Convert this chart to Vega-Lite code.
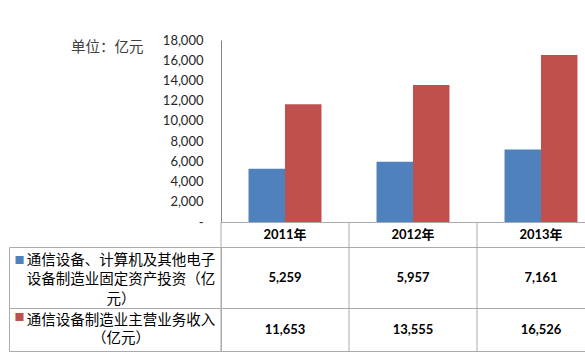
{
  "$schema": "https://vega.github.io/schema/vega-lite/v6.json",
  "padding": {"left": 8, "top": 34, "right": 0, "bottom": 0},
  "background": "white",
  "config": {"view": {"stroke": null}, "font": "Lato"},
  "datasets": {
    "d": [
      {"year": "2011年", "series": "通信设备、计算机及其他电子设备制造业固定资产投资（亿元）", "value": 5259},
      {"year": "2012年", "series": "通信设备、计算机及其他电子设备制造业固定资产投资（亿元）", "value": 5957},
      {"year": "2013年", "series": "通信设备、计算机及其他电子设备制造业固定资产投资（亿元）", "value": 7161},
      {"year": "2011年", "series": "通信设备制造业主营业务收入（亿元）", "value": 11653},
      {"year": "2012年", "series": "通信设备制造业主营业务收入（亿元）", "value": 13555},
      {"year": "2013年", "series": "通信设备制造业主营业务收入（亿元）", "value": 16526}
    ],
    "legend": [
      {"series": "通信设备、计算机及其他电子设备制造业固定资产投资（亿元）"},
      {"series": "通信设备制造业主营业务收入（亿元）"}
    ]
  },
  "columns": 2,
  "spacing": 0,
  "bounds": "flush",
  "align": "each",
  "resolve": {"scale": {"x": "independent", "y": "independent"}},
  "concat": [
    {
      "width": 212, "height": 182,
      "data": {"values": []},
      "mark": "text",
      "encoding": {}
    },
    {
      "width": 364, "height": 182,
      "data": {"name": "d"},
      "mark": {"type": "bar"},
      "encoding": {
        "x": {"field": "year", "type": "nominal", "axis": null,
              "scale": {"type": "band", "range": [0, 384], "paddingInner": 0.43, "paddingOuter": 0.215}},
        "xOffset": {"field": "series", "type": "nominal",
              "sort": ["通信设备、计算机及其他电子设备制造业固定资产投资（亿元）", "通信设备制造业主营业务收入（亿元）"],
              "scale": {"paddingInner": 0, "paddingOuter": 0}},
        "y": {"field": "value", "type": "quantitative",
              "scale": {"domain": [0, 18000], "nice": false},
              "axis": {
                "title": "单位：亿元", "titleAngle": 0, "titleAlign": "right", "titleBaseline": "middle",
                "titleX": -78, "titleY": 7, "titleFont": "Noto Sans CJK SC", "titleFontSize": 14.5,
                "titleFontWeight": "normal", "titleColor": "#404040",
                "values": [0, 2000, 4000, 6000, 8000, 10000, 12000, 14000, 16000, 18000],
                "format": ",.0f", "labelExpr": "datum.value === 0 ? '-' : datum.label",
                "labelFont": "Lato", "labelFontSize": 13, "labelColor": "#262626",
                "labelPadding": 18, "ticks": false, "tickSize": 0, "grid": false,
                "domainColor": "#868686", "labelOverlap": false
              }},
        "color": {"field": "series", "type": "nominal",
              "scale": {"domain": ["通信设备、计算机及其他电子设备制造业固定资产投资（亿元）", "通信设备制造业主营业务收入（亿元）"], "range": ["#4F81BD", "#C0504D"]},
              "legend": null}
      }
    },
    {
      "width": 212, "height": 25,
      "data": {"values": []},
      "mark": "text",
      "encoding": {}
    },
    {
      "width": 364, "height": 25,
      "data": {"name": "d"},
      "transform": [{"filter": {"field": "series", "equal": "通信设备、计算机及其他电子设备制造业固定资产投资（亿元）"}}],
      "layer": [
        {
          "mark": {"type": "rule", "color": "#ABABAB"},
          "encoding": {
            "x": {"field": "year", "type": "nominal", "bandPosition": 0, "axis": null,
                  "scale": {"type": "band", "range": [0, 384], "paddingInner": 0, "paddingOuter": 0}}
          }
        },
        {
          "mark": {"type": "text", "font": "Lato, Noto Sans CJK SC", "fontSize": 13, "fontWeight": "bold", "color": "#000000"},
          "encoding": {
            "x": {"field": "year", "type": "nominal", "axis": null,
                  "scale": {"type": "band", "range": [0, 384], "paddingInner": 0, "paddingOuter": 0}},
            "y": {"field": "series", "type": "nominal",
                  "scale": {"type": "band", "paddingInner": 0, "paddingOuter": 0},
                  "axis": {"grid": true, "tickBand": "extent", "labels": false, "ticks": false, "domain": false, "title": null, "gridColor": "#ABABAB"}},
            "text": {"field": "year"}
          }
        }
      ]
    },
    {
      "width": 212, "height": 61,
      "view": {"stroke": "#ABABAB"},
      "data": {"name": "legend"},
      "transform": [{"filter": {"field": "series", "equal": "通信设备、计算机及其他电子设备制造业固定资产投资（亿元）"}}],
      "layer": [
        {
          "mark": {"type": "text", "font": "Noto Sans CJK SC", "fontSize": 14.5, "lineHeight": 19.5, "lineBreak": "\n", "color": "#000000",
                   "dx": 6, "dy": -17,
                   "text": "通信设备、计算机及其他电子\n设备制造业固定资产投资（亿\n元）"},
          "encoding": {}
        },
        {
          "mark": {"type": "text", "font": "Noto Sans CJK SC", "fontSize": 10, "dx": -95.5, "dy": -17, "text": "■"},
          "encoding": {
            "color": {"field": "series", "type": "nominal",
              "scale": {"domain": ["通信设备、计算机及其他电子设备制造业固定资产投资（亿元）", "通信设备制造业主营业务收入（亿元）"], "range": ["#4F81BD", "#C0504D"]},
              "legend": null}
          }
        }
      ]
    },
    {
      "width": 364, "height": 61,
      "data": {"name": "d"},
      "transform": [{"filter": {"field": "series", "equal": "通信设备、计算机及其他电子设备制造业固定资产投资（亿元）"}}],
      "layer": [
        {
          "mark": {"type": "rule", "color": "#ABABAB"},
          "encoding": {
            "x": {"field": "year", "type": "nominal", "bandPosition": 0, "axis": null,
                  "scale": {"type": "band", "range": [0, 384], "paddingInner": 0, "paddingOuter": 0}}
          }
        },
        {
          "mark": {"type": "text", "font": "Lato", "fontSize": 13, "fontWeight": "bold", "color": "#000000"},
          "encoding": {
            "x": {"field": "year", "type": "nominal", "axis": null,
                  "scale": {"type": "band", "range": [0, 384], "paddingInner": 0, "paddingOuter": 0}},
            "y": {"field": "series", "type": "nominal",
                  "scale": {"type": "band", "paddingInner": 0, "paddingOuter": 0},
                  "axis": {"grid": true, "tickBand": "extent", "labels": false, "ticks": false, "domain": false, "title": null, "gridColor": "#ABABAB"}},
            "text": {"field": "value", "type": "quantitative", "format": ","}
          }
        }
      ]
    },
    {
      "width": 212, "height": 43,
      "view": {"stroke": "#ABABAB"},
      "data": {"name": "legend"},
      "transform": [{"filter": {"field": "series", "equal": "通信设备制造业主营业务收入（亿元）"}}],
      "layer": [
        {
          "mark": {"type": "text", "font": "Noto Sans CJK SC", "fontSize": 14.5, "lineHeight": 18, "lineBreak": "\n", "color": "#000000",
                   "dx": 6, "dy": -9,
                   "text": "通信设备制造业主营业务收入\n（亿元）"},
          "encoding": {}
        },
        {
          "mark": {"type": "text", "font": "Noto Sans CJK SC", "fontSize": 10, "dx": -95.5, "dy": -12, "text": "■"},
          "encoding": {
            "color": {"field": "series", "type": "nominal",
              "scale": {"domain": ["通信设备、计算机及其他电子设备制造业固定资产投资（亿元）", "通信设备制造业主营业务收入（亿元）"], "range": ["#4F81BD", "#C0504D"]},
              "legend": null}
          }
        }
      ]
    },
    {
      "width": 364, "height": 43,
      "data": {"name": "d"},
      "transform": [{"filter": {"field": "series", "equal": "通信设备制造业主营业务收入（亿元）"}}],
      "layer": [
        {
          "mark": {"type": "rule", "color": "#ABABAB"},
          "encoding": {
            "x": {"field": "year", "type": "nominal", "bandPosition": 0, "axis": null,
                  "scale": {"type": "band", "range": [0, 384], "paddingInner": 0, "paddingOuter": 0}}
          }
        },
        {
          "mark": {"type": "text", "font": "Lato", "fontSize": 13, "fontWeight": "bold", "color": "#000000"},
          "encoding": {
            "x": {"field": "year", "type": "nominal", "axis": null,
                  "scale": {"type": "band", "range": [0, 384], "paddingInner": 0, "paddingOuter": 0}},
            "y": {"field": "series", "type": "nominal",
                  "scale": {"type": "band", "paddingInner": 0, "paddingOuter": 0},
                  "axis": {"grid": true, "tickBand": "extent", "labels": false, "ticks": false, "domain": false, "title": null, "gridColor": "#ABABAB"}},
            "text": {"field": "value", "type": "quantitative", "format": ","}
          }
        }
      ]
    }
  ]
}
